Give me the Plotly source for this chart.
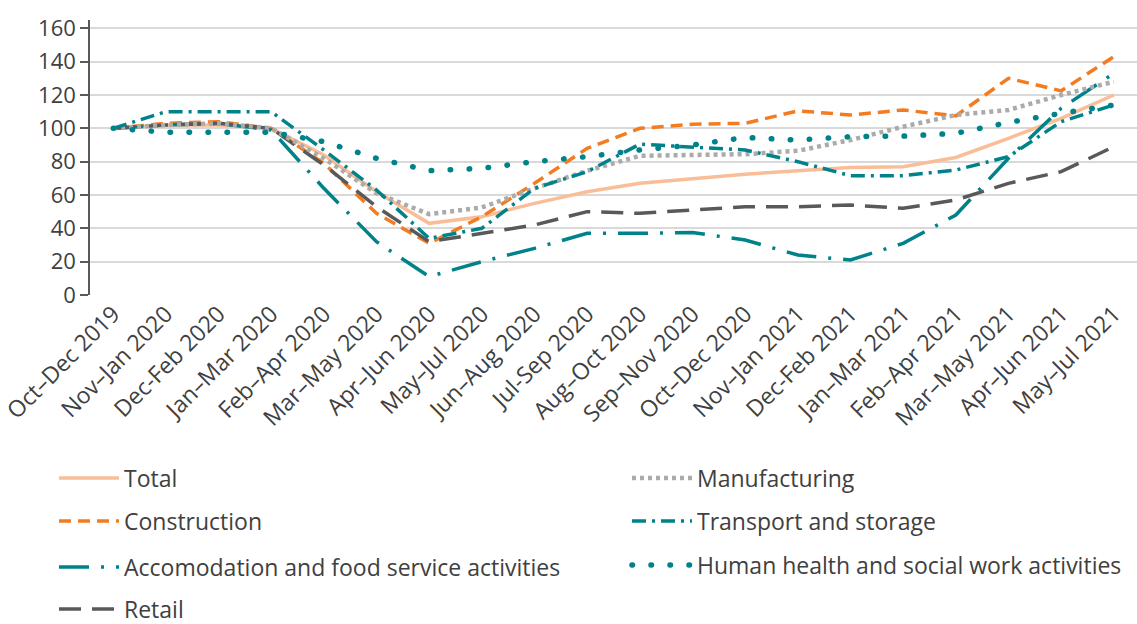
import plotly.graph_objects as go

# Three-month rolling periods
periods = [
    "Oct–Dec 2019", "Nov–Jan 2020", "Dec-Feb 2020", "Jan–Mar 2020", "Feb–Apr 2020",
    "Mar–May 2020", "Apr–Jun 2020", "May–Jul 2020", "Jun–Aug 2020", "Jul-Sep 2020",
    "Aug–Oct 2020", "Sep–Nov 2020", "Oct–Dec 2020", "Nov–Jan 2021", "Dec-Feb 2021",
    "Jan–Mar 2021", "Feb–Apr 2021", "Mar–May 2021", "Apr–Jun 2021", "May–Jul 2021",
]

# Index values (Oct–Dec 2019 = 100)
total = [100, 102, 102, 100, 84, 62, 43, 47, 55, 62, 67, 70, 72.5, 74.5, 76.5, 77, 82.5, 94, 106, 120]
construction = [100, 103, 104, 100, 79, 49, 31, 47, 67, 88, 100, 102.5, 103, 110.5, 108, 111, 107.5, 130, 122.5, 143]
accommodation = [100, 102, 103, 99, 64, 32, 11, 20, 28, 37, 37, 37.5, 33, 24, 21, 31, 48, 82, 112, 133]
retail = [100, 102, 103, 100, 78, 53, 32, 37, 42, 50, 49, 51, 53, 53, 54, 52, 57, 67, 74, 89]
manufacturing = [100, 102, 103, 100, 82, 61, 48.5, 52.5, 64, 74.5, 83.5, 84, 84.5, 86.5, 93, 101, 108, 111, 120, 128]
transport = [100, 110, 110, 110, 87, 63, 34, 40, 64, 74, 90.5, 88.5, 87, 80, 71.6, 71.6, 75, 83, 104, 114]
health = [100, 97.7, 97.7, 97.7, 92, 82, 74.6, 76, 80, 83, 87, 90, 94.5, 93, 95, 95.3, 97, 103.5, 109, 114]

TEAL = "#00828A"
series = [
    ("Total", total, "#F9BE98", "solid", 3.5, "legend", 54, 478),
    ("Construction", construction, "#F47C20", "12px,7px", 3.5, "legend2", 54, 521),
    ("Accomodation and food service activities", accommodation, TEAL, "30px,12px,3px,12px", 3.5, "legend3", 54, 567),
    ("Retail", retail, "#595959", "22px,11px", 3.5, "legend4", 54, 609),
    ("Manufacturing", manufacturing, "#ABABAB", "4px,4px", 4.5, "legend5", 627, 478),
    ("Transport and storage", transport, TEAL, "14px,6px,3px,6px", 3.5, "legend6", 627, 521),
    ("Human health and social work activities", health, TEAL, "0.5px,18.5px", 5.5, "legend7", 627, 565),
]

W, H = 1137, 624
FONT = "Open Sans"
TEXT = "#404040"

fig = go.Figure()
legends = {}
for name, vals, color, dash, width, leg, lx, ly in series:
    fig.add_trace(go.Scatter(
        x=periods, y=vals, name=name, mode="lines",
        line=dict(color=color, width=width, dash=dash),
        legend=leg, hoverinfo="skip",
    ))
    legends[leg] = dict(
        xref="container", yref="container",
        x=lx / W, y=1 - ly / H,
        xanchor="left", yanchor="middle",
        bgcolor="rgba(0,0,0,0)", borderwidth=0,
        itemwidth=60,
        font=dict(family=FONT, size=23, color=TEXT),
    )

fig.update_layout(
    width=W, height=H,
    margin=dict(l=90, r=0, t=20, b=329, autoexpand=False),
    plot_bgcolor="white", paper_bgcolor="white",
    font=dict(family=FONT, color=TEXT),
    showlegend=True,
    **legends,
)

fig.update_xaxes(
    type="category", range=[-0.44, 19.44],
    tickangle=-45, tickfont=dict(family=FONT, size=23, color=TEXT),
    showgrid=False, showline=False, ticks="", zeroline=False,
    automargin=False,
)
fig.update_yaxes(
    range=[0, 165], tickvals=list(range(0, 161, 20)),
    tickfont=dict(family=FONT, size=22, color=TEXT),
    showgrid=True, gridcolor="#D9D9D9", gridwidth=1.5,
    showline=True, linecolor="#595959", linewidth=1.5,
    ticks="outside", ticklen=8, tickcolor="#595959", tickwidth=1.5,
    zeroline=False, automargin=False,
)

# round caps turn the sparse dash pattern into round dots
round_dots = """
document.querySelectorAll('path.js-line').forEach(function(p){
  var d = (p.style.strokeDasharray || '').replace(/\\s/g, '');
  if (d === '0.5px,18.5px') { p.style.strokeLinecap = 'round'; }
});
"""

fig.write_html("out.html", post_script=round_dots)
